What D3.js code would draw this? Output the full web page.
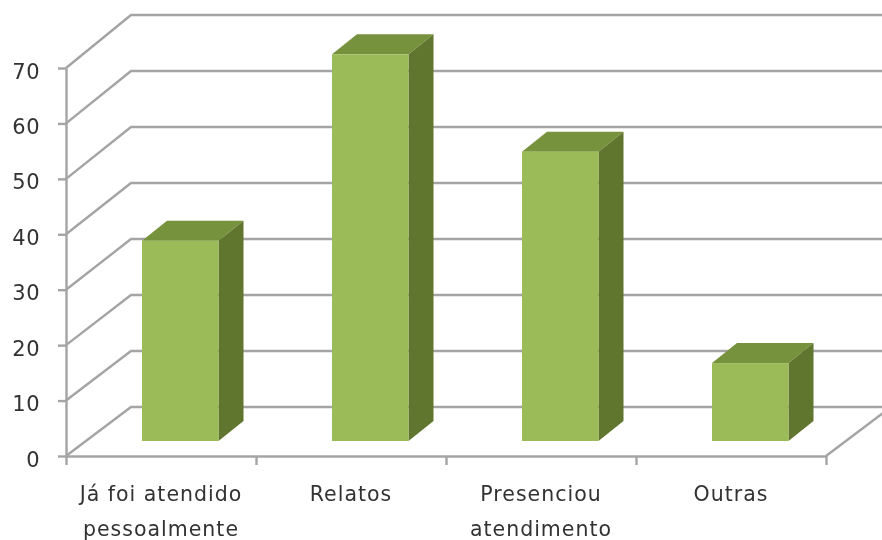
<!DOCTYPE html>
<html>
<head>
<meta charset="utf-8">
<script src="https://cdn.jsdelivr.net/npm/d3@7"></script>
<style>
  html, body { margin: 0; background: #fff; }
  text { font-family: "DejaVu Sans", sans-serif; fill: #333; }
</style>
</head>
<body>
<div id="chart"></div>
<script>
const categories = [['Já foi atendido', 'pessoalmente'], ['Relatos'], ['Presenciou', 'atendimento'], ['Outras']];
const values = [36, 69.5, 52, 14];
const yTicks = [0, 10, 20, 30, 40, 50, 60, 70];

const size = { width: 882, height: 540 };
const gridColor = '#a4a4a4';
const colors = { front: '#9bbb59', top: '#76923c', side: '#60752f' };

const svg = d3.select('#chart').append('svg')
  .attr('width', size.width)
  .attr('height', size.height)
  .style('display', 'block');

svg.append('defs').append('filter').attr('id', 'soft')
  .append('feGaussianBlur').attr('stdDeviation', 0.5);

const root = svg.append('g').attr('filter', 'url(#soft)');

// front plane, back wall and the plane the bars stand on
const y = d3.scaleLinear().domain([0, 70]).range([456, 68]);
const yBack = d3.scaleLinear().domain([0, 70]).range([407, 15]);
const yBar = d3.scaleLinear().domain([0, 70]).range([441, 51.5]);
const x = d3.scaleLinear().domain([0, 4]).range([66, 826]);

const backDx = 65;
const barDx = 25;
const barDy = 20;
const barOffset = 76;
const barWidth = 76.5;

// grid: side wall diagonal + back wall line
root.append('g').selectAll('path')
  .data(yTicks)
  .enter()
  .append('path')
  .attr('d', (d) => `M${x(0)},${y(d)}L${x(0) + backDx},${yBack(d)}L${size.width},${yBack(d)}`)
  .attr('fill', 'none')
  .attr('stroke', gridColor)
  .attr('stroke-width', 2.4);

// floor right edge
root.append('path')
  .attr('d', `M${x(4)},${y(0)}L${x(4) + backDx},${yBack(0)}`)
  .attr('stroke', gridColor)
  .attr('stroke-width', 2.4);

const yAxis = d3.axisLeft(y).tickValues(yTicks).tickSize(8).tickSizeOuter(0).tickPadding(18);
const yG = root.append('g').attr('transform', `translate(${x(0)},0)`).call(yAxis);
yG.selectAll('text').style('font-size', '21px').style('letter-spacing', '0.5px').attr('dy', '0.48em');

const xAxis = d3.axisBottom(x).tickValues([0, 1, 2, 3, 4]).tickSize(9).tickSizeOuter(0).tickFormat('');
root.append('g').attr('transform', `translate(0,${y(0)})`).call(xAxis);

root.selectAll('.domain, .tick line')
  .attr('stroke', gridColor)
  .attr('stroke-width', 2.4);

const bars = root.append('g').selectAll('g')
  .data(values)
  .enter()
  .append('g');

bars.append('path')
  .attr('fill', colors.top)
  .attr('d', (d, i) => {
    const l = x(i) + barOffset;
    const t = yBar(d);
    return `M${l},${t}L${l + barWidth},${t}L${l + barWidth + barDx},${t - barDy}L${l + barDx},${t - barDy}Z`;
  });

bars.append('path')
  .attr('fill', colors.side)
  .attr('d', (d, i) => {
    const r = x(i) + barOffset + barWidth;
    const t = yBar(d);
    const b = yBar(0);
    return `M${r},${t}L${r + barDx},${t - barDy}L${r + barDx},${b - barDy}L${r},${b}Z`;
  });

bars.append('rect')
  .attr('fill', colors.front)
  .attr('x', (d, i) => x(i) + barOffset)
  .attr('y', (d) => yBar(d))
  .attr('width', barWidth)
  .attr('height', (d) => yBar(0) - yBar(d));

const labels = root.append('g').selectAll('text')
  .data(categories)
  .enter()
  .append('text')
  .attr('text-anchor', 'middle')
  .style('font-size', '20.5px')
  .style('letter-spacing', '1px');

labels.selectAll('tspan')
  .data((d, i) => d.map((line, j) => ({ line, j, i })))
  .enter()
  .append('tspan')
  .attr('x', (d) => x(d.i + 0.5))
  .attr('y', (d) => 501 + d.j * 35)
  .text((d) => d.line);
</script>
</body>
</html>
